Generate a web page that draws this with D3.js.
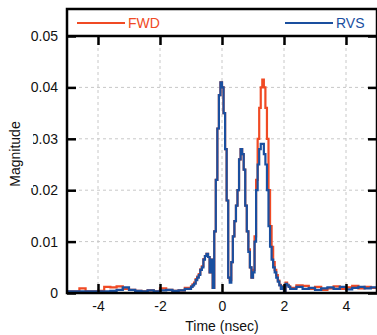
<!DOCTYPE html>
<html>
<head>
<meta charset="utf-8">
<script src="https://cdn.jsdelivr.net/npm/d3@7"></script>
<style>
  body { margin: 0; background: #fff; }
  text { font-family: "Liberation Sans", Arial, sans-serif; }
</style>
</head>
<body>
<div id="chart"></div>
<script>
// sample times (nsec): coarse on the tails, fine across the pulse
var time = [-5.0, -4.8, -4.6, -4.4, -4.2, -4.0, -3.8, -3.6, -3.4, -3.2, -3.0, -2.8, -2.6, -2.4, -2.2, -2.0, -1.8, -1.6, -1.4, -1.2,
  -1.00, -0.95, -0.90, -0.85, -0.80, -0.75, -0.70, -0.65, -0.60, -0.55, -0.50, -0.45, -0.40, -0.35, -0.30, -0.25, -0.20, -0.15, -0.10, -0.05,
  0.00, 0.05, 0.10, 0.15, 0.20, 0.25, 0.30, 0.35, 0.40, 0.45, 0.50, 0.55, 0.60, 0.65, 0.70, 0.75, 0.80, 0.85, 0.90, 0.95,
  1.00, 1.05, 1.10, 1.15, 1.20, 1.25, 1.30, 1.35, 1.40, 1.45, 1.50, 1.55, 1.60, 1.65, 1.70, 1.75, 1.80, 1.85, 1.90, 1.95,
  2.00, 2.05, 2.10, 2.15, 2.20, 2.4, 2.6, 2.8, 3.0, 3.2, 3.4, 3.6, 3.8, 4.0, 4.2, 4.4, 4.6, 4.8, 5.0];

var fwd = [0.0003, 0.0003, 0.0009, 0.0003, 0.0003, 0.0004, 0.0012, 0.0011, 0.0013, 0.0008, 0.0006, 0.0004, 0.0003, 0.0005, 0.0003, 0.0009, 0.0006, 0.0004, 0.0005, 0.0010,
  0.0013, 0.0017, 0.0020, 0.0027, 0.0032, 0.0037, 0.0046, 0.0052, 0.0066, 0.0072, 0.0076, 0.0070, 0.0040, 0.0065, 0.0010, 0.0120, 0.0220, 0.0320, 0.0385, 0.0410,
  0.0400, 0.0350, 0.0280, 0.0180, 0.0030, 0.0025, 0.0060, 0.0110, 0.0140, 0.0170, 0.0200, 0.0260, 0.0280, 0.0270, 0.0240, 0.0170, 0.0120, 0.0085, 0.0050, 0.0030,
  0.0045, 0.0110, 0.0220, 0.0300, 0.0360, 0.0400, 0.0415, 0.0400, 0.0360, 0.0300, 0.0200, 0.0130, 0.0090, 0.0060, 0.0045, 0.0035, 0.0024, 0.0016, 0.0010, 0.0013,
  0.0004, 0.0020, 0.0016, 0.0013, 0.0010, 0.0015, 0.0014, 0.0008, 0.0012, 0.0006, 0.0009, 0.0013, 0.0008, 0.0011, 0.0014, 0.0009, 0.0012, 0.0010, 0.0007];

var rvs = [0.0003, 0.0003, 0.0003, 0.0003, 0.0003, 0.0003, 0.0003, 0.0004, 0.0006, 0.0011, 0.0006, 0.0004, 0.0003, 0.0005, 0.0003, 0.0005, 0.0006, 0.0004, 0.0005, 0.0008,
  0.0012, 0.0015, 0.0018, 0.0025, 0.0030, 0.0035, 0.0045, 0.0050, 0.0065, 0.0072, 0.0076, 0.0070, 0.0040, 0.0065, 0.0010, 0.0120, 0.0220, 0.0320, 0.0385, 0.0410,
  0.0400, 0.0350, 0.0280, 0.0180, 0.0030, 0.0020, 0.0060, 0.0110, 0.0140, 0.0170, 0.0200, 0.0260, 0.0280, 0.0270, 0.0240, 0.0170, 0.0120, 0.0080, 0.0050, 0.0030,
  0.0040, 0.0100, 0.0200, 0.0250, 0.0280, 0.0290, 0.0290, 0.0270, 0.0250, 0.0200, 0.0130, 0.0090, 0.0065, 0.0050, 0.0040, 0.0030, 0.0022, 0.0015, 0.0008, 0.0012,
  0.0003, 0.0018, 0.0015, 0.0012, 0.0008, 0.0012, 0.0008, 0.0010, 0.0006, 0.0009, 0.0011, 0.0008, 0.0012, 0.0007, 0.0010, 0.0012, 0.0009, 0.0011, 0.0008];

var xTicks = [-4, -2, 0, 2, 4];
var xTickLabels = ['-4', '-2', '0', '2', '4'];
var yTicks = [0, 0.01, 0.02, 0.03, 0.04, 0.05];
var yTickLabels = ['0', '0.01', '0.02', '0.03', '0.04', '0.05'];
var seriesNames = ['FWD', 'RVS'];
var colors = ['#f04a24', '#1a4f9f'];

(function() {
  var width = 377, height = 335;
  var mLeft = 67, mRight = 377, mTop = 36, mBottom = 293, legendTop = 9;

  var svg = d3.select('#chart').append('svg')
    .attr('width', width).attr('height', height);

  var x = d3.scaleLinear().domain([-5, 5]).range([mLeft, mRight]);
  var y = d3.scaleLinear().domain([0, 0.05]).range([mBottom, mTop]);

  // grid
  var grid = svg.append('g').attr('stroke', '#c8c8c8').attr('stroke-width', 1).attr('stroke-dasharray', '3,3');
  grid.selectAll('.gx').data(xTicks).enter().append('line')
    .attr('x1', d => x(d)).attr('x2', d => x(d)).attr('y1', mTop).attr('y2', mBottom);
  grid.selectAll('.gy').data(yTicks.slice(1, 5)).enter().append('line')
    .attr('x1', mLeft).attr('x2', mRight).attr('y1', d => y(d)).attr('y2', d => y(d));

  // data
  var line = d3.line().curve(d3.curveStepAfter)
    .x(function(d, i) { return x(time[i]); })
    .y(function(d) { return y(d); });

  [fwd, rvs].forEach(function(s, k) {
    svg.append('path').datum(s)
      .attr('d', line)
      .attr('fill', 'none')
      .attr('stroke', colors[k])
      .attr('stroke-width', 2.2);
  });

  // axes, ticks pointing inward
  var tick = 9;
  svg.append('g').attr('transform', 'translate(0,' + mBottom + ')')
    .call(d3.axisBottom(x).tickValues(xTicks).tickSize(-tick).tickPadding(8).tickFormat((d, i) => xTickLabels[i]))
    .call(g => g.select('.domain').remove());
  svg.append('g').attr('transform', 'translate(0,' + mTop + ')')
    .call(d3.axisTop(x).tickValues(xTicks).tickSize(-tick).tickFormat(''))
    .call(g => g.select('.domain').remove());
  svg.append('g').attr('transform', 'translate(' + mLeft + ',0)')
    .call(d3.axisLeft(y).tickValues(yTicks).tickSize(-tick).tickPadding(9).tickFormat((d, i) => yTickLabels[i]))
    .call(g => g.select('.domain').remove());
  svg.append('g').attr('transform', 'translate(' + mRight + ',0)')
    .call(d3.axisRight(y).tickValues(yTicks).tickSize(-tick).tickFormat(''))
    .call(g => g.select('.domain').remove());

  svg.selectAll('.tick line').attr('stroke', '#000').attr('stroke-width', 2.5);
  svg.selectAll('.tick text').attr('font-size', 14).attr('fill', '#111')
    .attr('font-family', '"Liberation Sans", Arial, sans-serif');

  // frame + legend box
  svg.append('rect').attr('x', mLeft).attr('y', legendTop).attr('width', mRight - mLeft).attr('height', mBottom - legendTop)
    .attr('fill', 'none').attr('stroke', '#000').attr('stroke-width', 2.5);
  svg.append('line').attr('x1', mLeft).attr('x2', mRight).attr('y1', mTop).attr('y2', mTop)
    .attr('stroke', '#000').attr('stroke-width', 2.5);

  var legendX = [77, 285];
  var leg = svg.append('g').selectAll('g').data(seriesNames).enter().append('g')
    .attr('transform', (d, i) => 'translate(' + legendX[i] + ',23)');
  leg.append('line').attr('x1', 0).attr('x2', 48).attr('y1', 0).attr('y2', 0)
    .attr('stroke', (d, i) => colors[i]).attr('stroke-width', 2);
  leg.append('text').attr('x', 51).attr('y', 5).attr('font-size', 14)
    .attr('fill', (d, i) => colors[i]).text(d => d);

  // axis titles
  svg.append('text').attr('x', x(0)).attr('y', 331).attr('text-anchor', 'middle')
    .attr('font-size', 14).attr('fill', '#111').text('Time (nsec)');
  svg.append('rect').attr('x', 0).attr('y', 118).attr('width', 33).attr('height', 70).attr('fill', '#fff');
  svg.append('text').attr('transform', 'translate(20,154) rotate(-90)').attr('text-anchor', 'middle')
    .attr('font-size', 14).attr('fill', '#111').text('Magnitude');
})();
</script>
</body>
</html>
